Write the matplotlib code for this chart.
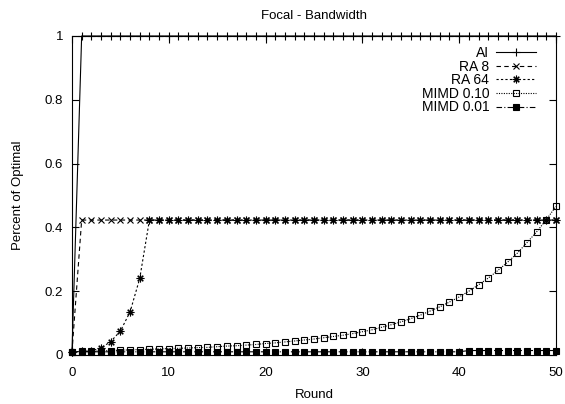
#!/usr/bin/env python
'''
Percent of optimal bandwidth per round for the Focal scenario,
comparing AI, RA and MIMD allocation schemes.
'''

import numpy as np
import matplotlib
matplotlib.use('Agg')
import matplotlib.pyplot as plt

rounds = np.arange(0, 51)

ai = [0.01] + [1.0] * 50
ra8 = [0.01] + [0.423] * 50
ra64 = [0.01, 0.011, 0.013, 0.022, 0.042, 0.075, 0.135, 0.24] + [0.423] * 43
mimd_010 = [0.010, 0.011, 0.012, 0.013, 0.014, 0.015, 0.016, 0.017, 0.018, 0.019,
            0.020, 0.021, 0.022, 0.023, 0.024, 0.026, 0.028, 0.029, 0.031, 0.033,
            0.036, 0.038, 0.041, 0.044, 0.047, 0.050, 0.054, 0.058, 0.062, 0.067,
            0.073, 0.079, 0.087, 0.095, 0.104, 0.114, 0.125, 0.138, 0.151, 0.166,
            0.182, 0.200, 0.220, 0.241, 0.265, 0.291, 0.319, 0.352, 0.386, 0.424,
            0.466]
mimd_001 = [0.010] * 41 + [0.014] * 10

xticks = [0, 10, 20, 30, 40, 50]
yticks = [0, 0.2, 0.4, 0.6, 0.8, 1]
ytick_labels = ['0', '0.2', '0.4', '0.6', '0.8', '1']

plt.rcParams['font.family'] = ['Liberation Sans', 'DejaVu Sans']
fs = 9.5

fig = plt.figure(figsize=(5.65, 4.04), dpi=100)
ax = fig.add_axes([0.1274, 0.1213, 0.8566, 0.7896])

lw = 0.8
ax.plot(rounds, ai, color='black', lw=lw, linestyle='-', marker='+',
        markersize=6, markeredgewidth=0.8, clip_on=False, label='AI')
ax.plot(rounds, ra8, color='black', lw=lw, linestyle=(0, (4, 3)), marker='x',
        markersize=4.5, markeredgewidth=0.8, clip_on=False, label='RA 8')
ax.plot(rounds, mimd_010, color='black', lw=lw, linestyle=(0, (1, 1.2)),
        marker='s', markersize=5, markerfacecolor='none', markeredgewidth=0.8,
        clip_on=False, label='MIMD 0.10')
ax.plot(rounds, mimd_001, color='black', lw=lw, linestyle=(0, (5, 2, 1, 2)),
        marker='s', markersize=5, markerfacecolor='black', markeredgewidth=0.8,
        clip_on=False, label='MIMD 0.01')
ax.plot(rounds, ra64, color='black', lw=lw, linestyle=(0, (2, 2)),
        marker=(8, 2, 0), markersize=5.5, markeredgewidth=0.8, clip_on=False,
        label='RA 64')

ax.set_xlim(0, 50)
ax.set_ylim(0, 1)
ax.set_xticks(xticks)
ax.set_yticks(yticks)
ax.set_yticklabels(ytick_labels)
ax.tick_params(direction='in', length=5, width=0.8, top=True, right=True,
               labelsize=fs)
ax.tick_params(axis='x', pad=8.5)
ax.tick_params(axis='y', pad=6.5)
for s in ax.spines.values():
    s.set_linewidth(0.8)

ax.set_xlabel('Round', fontsize=fs, labelpad=7)
ax.set_ylabel('Percent of Optimal', fontsize=fs, labelpad=15)
ax.set_title('Focal - Bandwidth', fontsize=fs, pad=12)

handles, labels = ax.get_legend_handles_labels()
order = ['AI', 'RA 8', 'RA 64', 'MIMD 0.10', 'MIMD 0.01']
hmap = dict(zip(labels, handles))
ax.legend([hmap[k] for k in order], order, loc='upper right',
          bbox_to_anchor=(0.974, 0.99), frameon=False, markerfirst=False,
          numpoints=1, handlelength=2.9, handletextpad=0.5,
          labelspacing=-0.03, borderpad=0, fontsize=10)

plt.savefig('out.png', dpi=100)
